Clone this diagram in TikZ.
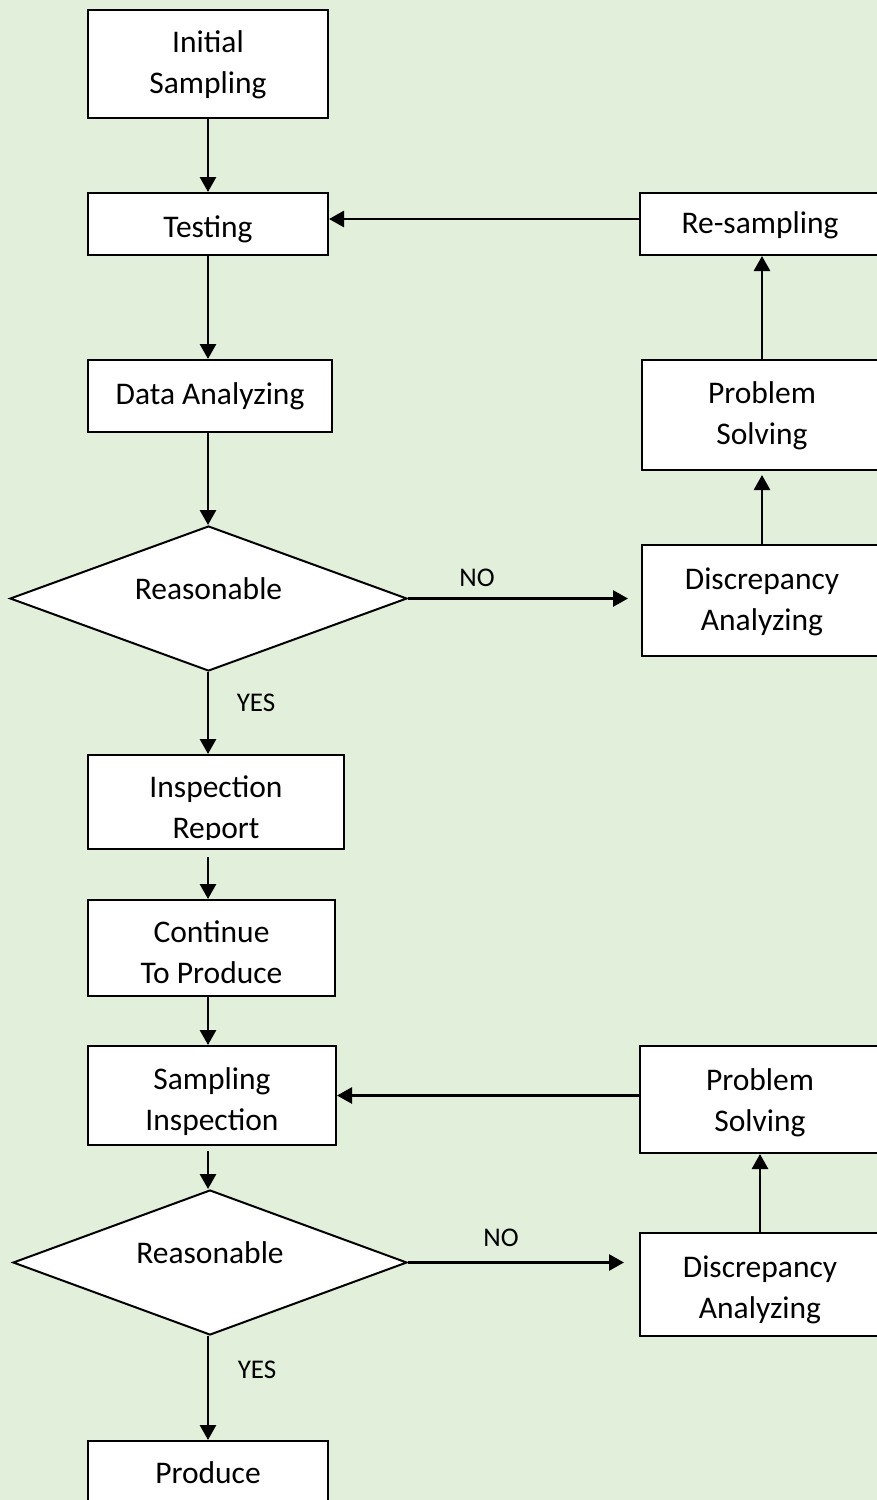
\documentclass[tikz,border=0pt]{standalone}
\usepackage{fontspec}
\setmainfont{Carlito}
\usetikzlibrary{shapes.geometric,arrows.meta}
\definecolor{bg}{HTML}{E2EFDA}
\newcommand\lineup[1]{\rule{0pt}{#1pt}}
\begin{document}
\begin{tikzpicture}[x=1pt,y=-1pt,
  box/.style={draw=black,fill=white,line width=2pt,rectangle,inner sep=0pt,align=center,font=\fontsize{31.5}{41}\selectfont},
  dec/.style={draw=black,fill=white,line width=2pt,diamond,aspect=2.7,inner sep=0pt,text depth=20pt,font=\fontsize{31.5}{41}\selectfont},
  arr/.style={line width=2.8pt,-{Triangle[width=16pt,length=15pt]}},
  lbl/.style={font=\fontsize{27}{32}\selectfont,inner sep=0pt}]
\fill[bg] (0,0) rectangle (877,1500);
\clip (0,0) rectangle (877,1500);
\coordinate (cx) at (208,0);
% left column
\node[box,minimum width=240pt,minimum height=108pt] (init) at (208,64) {\lineup{23}Initial\\Sampling};
\node[box,minimum width=240pt,minimum height=62pt] (test) at (208,224) {\lineup{32}Testing};
\node[box,minimum width=244pt,minimum height=72pt] (data) at (210,396) {Data Analyzing};
\node[dec,minimum width=397pt,minimum height=145pt] (dia1) at (208.5,598.5) {Reasonable};
\node[box,minimum width=256pt,minimum height=94pt] (insp) at (216,802) {};
\begin{scope}
  \clip (88,755) rectangle (344,839);
  \node[font=\fontsize{31.5}{41}\selectfont,align=center,inner sep=0pt] (insptxt) at (216,809.5) {\lineup{23}Inspection\\Report};
\end{scope}
\node[box,minimum width=247pt,minimum height=96pt] (cont) at (211.5,948) {\lineup{30.4}Continue\\To Produce};
\node[box,minimum width=248pt,minimum height=99pt] (samp) at (212,1095.5) {\lineup{35}Sampling\\Inspection};
\node[dec,minimum width=394pt,minimum height=145pt] (dia2) at (210,1262.5) {Reasonable};
\node[box,minimum width=240pt,minimum height=64pt] (prod) at (208,1473) {Produce};
% right column
\node[box,minimum width=240pt,minimum height=62pt] (resamp) at (760,224) {\lineup{25}Re-sampling};
\node[box,minimum width=240pt,minimum height=110pt] (ps1) at (762,415) {\lineup{23}Problem\\Solving};
\node[box,minimum width=240pt,minimum height=111pt] (disc1) at (762,600.5) {\lineup{25}Discrepancy\\Analyzing};
\node[box,minimum width=240pt,minimum height=107pt] (ps2) at (760,1099.5) {\lineup{28.5}Problem\\Solving};
\node[box,minimum width=240pt,minimum height=103pt] (disc2) at (760,1284.5) {\lineup{33}Discrepancy\\Analyzing};
% connectors
\draw[arr] (init.south) -- (test.north);
\draw[arr] (cx |- test.south) -- (cx |- data.north);
\draw[arr] (cx |- data.south) -- (cx |- dia1.north);
\draw[arr] (cx |- dia1.south) -- (cx |- insp.north);
\draw[arr,shorten <=7pt] (cx |- insp.south) -- (cx |- cont.north);
\draw[arr] (cx |- cont.south) -- (cx |- samp.north);
\draw[arr,shorten <=5pt] (cx |- samp.south) -- (cx |- dia2.north);
\draw[arr] (cx |- dia2.south) -- (cx |- prod.north);
\draw[arr,shorten >=13pt] (dia1.east) -- (dia1.east -| disc1.west);
\draw[arr,shorten >=4pt] (disc1.north) -- (disc1.north |- ps1.south);
\draw[arr] (ps1.north) -- (ps1.north |- resamp.south);
\draw[arr] ([yshift=5pt]resamp.west) -- ([yshift=5pt]test.east);
\draw[arr,shorten >=15pt] (dia2.east) -- (dia2.east -| disc2.west);
\draw[arr] (disc2.north) -- (disc2.north |- ps2.south);
\draw[arr] (ps2.west |- samp.east) -- (samp.east);
% labels
\node[lbl] (no1) at (477,578) {NO};
\node[lbl] (yes1) at (256,703) {YES};
\node[lbl] (no2) at (501,1238) {NO};
\node[lbl] (yes2) at (257,1370) {YES};
\end{tikzpicture}
\end{document}
